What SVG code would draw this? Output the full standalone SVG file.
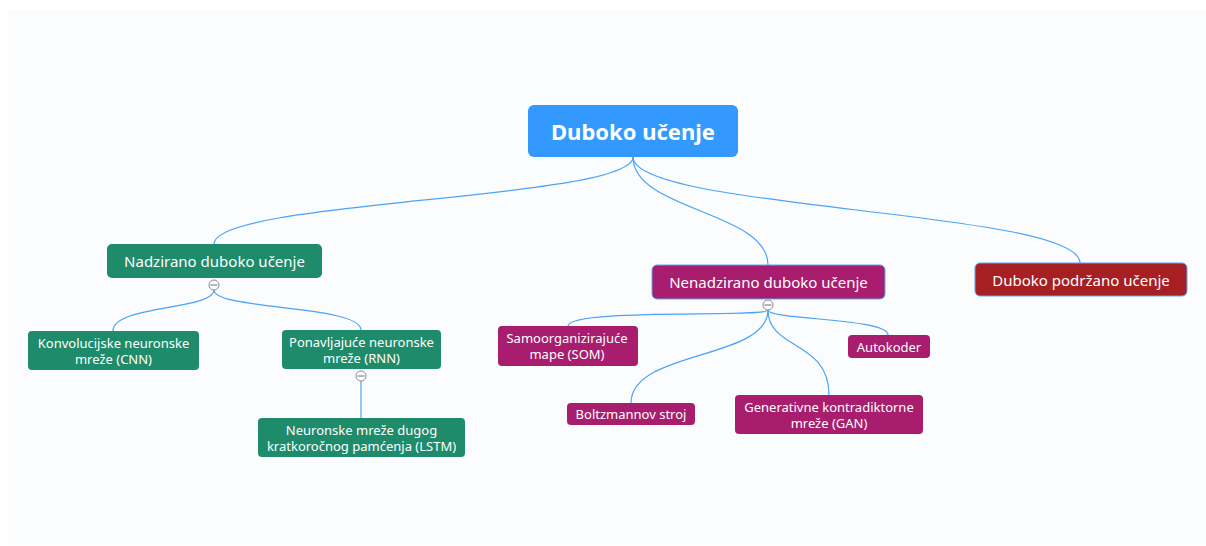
<svg xmlns="http://www.w3.org/2000/svg" width="1206" height="546" viewBox="0 0 1206 546">
  <style>
    text { font-family: "Noto Sans", "Open Sans", sans-serif; fill: #ffffff; text-anchor: middle; dominant-baseline: central; }
    .root { font-size: 22px; font-weight: bold; }
    .l1 { font-size: 15px; }
    .l2 { font-size: 13px; }
    .conn { fill: none; stroke: #4aa3f7; stroke-width: 1.2; }
    .green { fill: #1e8b6b; }
    .mag { fill: #a81d6d; }
    .sel { stroke: #5aa9f0; stroke-width: 1; }
    .tog circle { fill: #ffffff; stroke: #8c8c8c; stroke-width: 1; }
    .tog line { stroke: #6e6e6e; stroke-width: 1; }
  </style>
  <rect x="8" y="10" width="1198" height="535" fill="#fbfcfe"/>

  <g id="connectors">
    <path class="conn" d="M633,157 C633,200 214,200 214,244"/>
    <path class="conn" d="M633,157 C633,211 768,211 768,265"/>
    <path class="conn" d="M633,157 C633,210 1080,210 1080,263"/>
    <path class="conn" d="M214,290 C214,310 113,305 113,331"/>
    <path class="conn" d="M214,290 C214,310 361,305 361,330"/>
    <path class="conn" d="M361,381 L361,418"/>
    <path class="conn" d="M768,310 C768,318 568,308 568,326"/>
    <path class="conn" d="M768,310 C768,320 888,318 888,335"/>
    <path class="conn" d="M768,310 C768,360 631,350 631,403"/>
    <path class="conn" d="M768,310 C768,350 829,340 829,395"/>
  </g>

  <g id="root">
    <rect x="528" y="105" width="210" height="52" rx="6" fill="#3399ff"/>
    <text class="root" x="633" y="131">Duboko učenje</text>
  </g>

  <g id="nadzirano">
    <rect class="green" x="107" y="244" width="215" height="34" rx="5"/>
    <text class="l1" x="214.5" y="261">Nadzirano duboko učenje</text>
  </g>
  <g id="toggle-nadzirano" class="tog">
    <circle cx="214" cy="285" r="5"/>
    <line x1="210.5" y1="285" x2="217.5" y2="285"/>
  </g>

  <g id="nenadzirano">
    <rect class="mag sel" x="652" y="265" width="233" height="34" rx="5"/>
    <text class="l1" x="768.5" y="282">Nenadzirano duboko učenje</text>
  </g>
  <g id="toggle-nenadzirano" class="tog">
    <circle cx="768" cy="305" r="5"/>
    <line x1="764.5" y1="305" x2="771.5" y2="305"/>
  </g>

  <g id="podrzano">
    <rect class="sel" x="975" y="263" width="212" height="33" rx="5" fill="#a61f22"/>
    <text class="l1" x="1081" y="280">Duboko podržano učenje</text>
  </g>

  <g id="cnn">
    <rect class="green" x="28" y="331" width="171" height="39" rx="4"/>
    <text class="l2" x="113.5" y="342.5">Konvolucijske neuronske</text>
    <text class="l2" x="113.5" y="358.5">mreže (CNN)</text>
  </g>

  <g id="rnn">
    <rect class="green" x="282" y="330" width="159" height="39" rx="4"/>
    <text class="l2" x="361.5" y="341.5">Ponavljajuće neuronske</text>
    <text class="l2" x="361.5" y="357.5">mreže (RNN)</text>
  </g>
  <g id="toggle-rnn" class="tog">
    <circle cx="361" cy="376" r="5"/>
    <line x1="357.5" y1="376" x2="364.5" y2="376"/>
  </g>

  <g id="lstm">
    <rect class="green" x="258" y="418" width="207" height="39" rx="4"/>
    <text class="l2" x="361.5" y="429.5">Neuronske mreže dugog</text>
    <text class="l2" x="361.5" y="445.5">kratkoročnog pamćenja (LSTM)</text>
  </g>

  <g id="som">
    <rect class="mag" x="498" y="326" width="140" height="40" rx="4"/>
    <text class="l2" x="567" y="338">Samoorganizirajuće</text>
    <text class="l2" x="567" y="354">mape (SOM)</text>
  </g>

  <g id="autokoder">
    <rect class="mag" x="848" y="335" width="82" height="23" rx="4"/>
    <text class="l2" x="889" y="346.5">Autokoder</text>
  </g>

  <g id="boltzmann">
    <rect class="mag" x="567" y="403" width="128" height="22" rx="4"/>
    <text class="l2" x="631" y="414">Boltzmannov stroj</text>
  </g>

  <g id="gan">
    <rect class="mag" x="735" y="395" width="188" height="39" rx="4"/>
    <text class="l2" x="829" y="406.5">Generativne kontradiktorne</text>
    <text class="l2" x="829" y="422.5">mreže (GAN)</text>
  </g>
</svg>
